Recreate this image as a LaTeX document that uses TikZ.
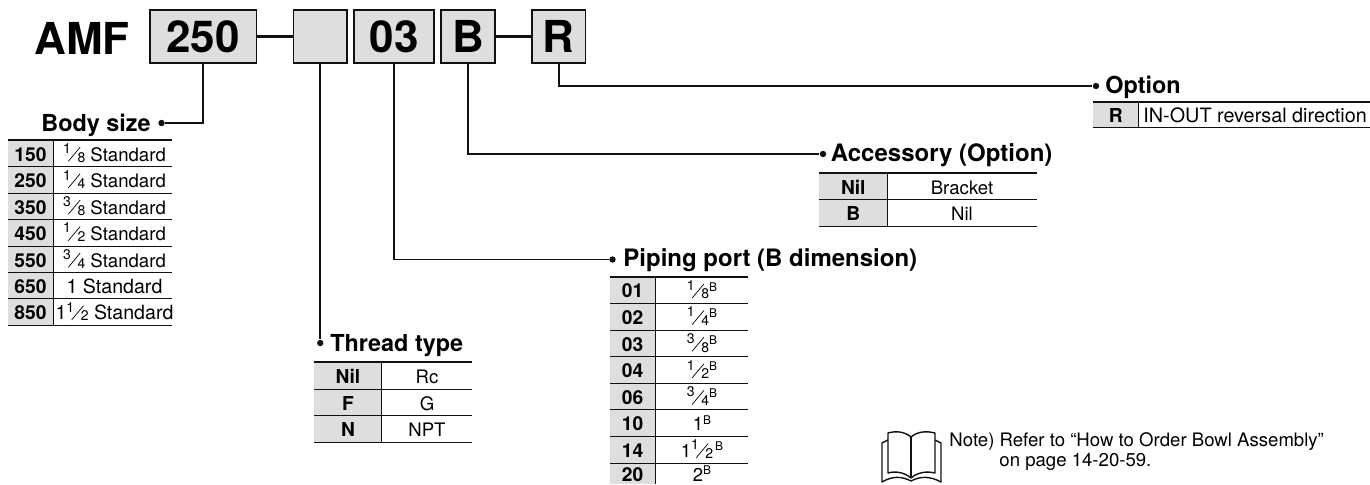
\documentclass[tikz,border=0pt]{standalone}
\usepackage{fontspec}
\setmainfont{TeX Gyre Heros}
\usetikzlibrary{arrows.meta,positioning,calc}
\definecolor{AMFInk}{HTML}{111111}
\definecolor{AMFKey}{HTML}{DEDEDE}
\newcommand{\frc}[2]{{\raisebox{3.8pt}{\fontsize{7}{7}\selectfont #1}\kern-1.45pt\raisebox{-.2pt}{\rotatebox{50}{\rule{9.2pt}{.35pt}}}\kern-1.45pt\raisebox{-.5pt}{\fontsize{7}{7}\selectfont #2}}}
\newcommand{\supB}{\raisebox{3.4pt}{\fontsize{6}{7}\selectfont B}}
\newcommand{\wider}{\fontsize{9.8}{11}\selectfont}
\tikzset{
  codebox/.style={draw=AMFInk,line width=.9pt,fill=AMFKey,text=black,inner sep=0pt,
                  minimum height=26.5pt,font=\fontsize{22}{24}\bfseries\selectfont},
  joiner/.style={AMFInk,line width=1.5pt},
  leader/.style={AMFInk,line width=.8pt},
  leaddot/.style={circle,fill=AMFInk,inner sep=0pt,minimum size=3.2pt},
  head/.style={text=black,inner sep=0pt,font=\fontsize{11.7}{14}\bfseries\selectfont},
  headwide/.style={head,font=\fontsize{12}{14}\bfseries\selectfont},
  keytext/.style={anchor=base,inner sep=0pt,font=\fontsize{9.6}{11}\bfseries\selectfont},
  valtext/.style={anchor=base,inner sep=0pt,font=\fontsize{9.3}{11}\selectfont},
  toprule/.style={AMFInk,line width=.95pt},
  rowrule/.style={AMFInk,line width=.5pt},
  notetext/.style={anchor=base west,inner sep=0pt,font=\fontsize{9.3}{11}\selectfont},
  bookline/.style={AMFInk,line width=.7pt,line join=round},
}
\begin{document}
\begin{tikzpicture}[x=.5pt,y=-.5pt]
    \useasboundingbox (0,0) rectangle (1370,484);

    % model code
    \node[anchor=base west,inner sep=0pt,font=\fontsize{22}{24}\bfseries\selectfont] (model) at (34,54) {AMF};
    \node[codebox,minimum width=53.4pt] (size) at (203,36.5) {250};
    \node[codebox,minimum width=26.75pt] (thread) at (320.25,36.5) {};
    \node[codebox,minimum width=40pt] (port) at (394,36.5) {03};
    \node[codebox,minimum width=27pt] (bracket) at (468,36.5) {B};
    \node[codebox,minimum width=26.75pt] (reversal) at (558.75,36.5) {R};
    \draw[joiner] (size.east)--(thread.west);
    \draw[joiner] (bracket.east)--(reversal.west);

    % leaders
    \node[leaddot] (sizedot) at (161.5,123) {};
    \node[leaddot] (threaddot) at (320.25,343) {};
    \node[leaddot] (portdot) at (612.5,259.5) {};
    \node[leaddot] (bracketdot) at (823,154) {};
    \node[leaddot] (reversaldot) at (1096,86) {};
    \draw[leader,line width=1pt] (size.south) |- (sizedot);
    \draw[leader] (thread.south) -- (threaddot);
    \draw[leader] (port.south) |- (portdot);
    \draw[leader] (bracket.south) |- (bracketdot);
    \draw[leader] (reversal.south) |- (reversaldot);

    % body size
    \node[head,anchor=base east] (sizehead) at (151,131.5) {Body size};
    \fill[AMFKey] (8,140) rectangle (53,325.3);
    \draw[toprule] (8,140)--(172,140);
    \draw[rowrule] (53,140)--(53,325.3);
    \foreach \ypos/\keytxt/\valtxt in {
      166.6/150/\frc{1}{8} Standard,193.2/250/\frc{1}{4} Standard,219.6/350/\frc{3}{8} Standard,
      246/450/\frc{1}{2} Standard,272.6/550/\frc{3}{4} Standard,298.9/650/\wider 1 Standard,325.3/850/\wider 1\frc{1}{2} Standard}{
      \node[keytext] (sizekey\keytxt) at (30.5,\ypos-5.5) {\keytxt};
      \node[valtext] (sizeval\keytxt) at (114.5,\ypos-5.5) {\valtxt};
      \draw[rowrule] (8,\ypos)--(172,\ypos);
    }

    % thread type
    \node[head,anchor=base west] (threadhead) at (330,351) {Thread type};
    \fill[AMFKey] (314,362.3) rectangle (381.7,442);
    \draw[toprule] (314,362.3)--(472,362.3);
    \draw[rowrule] (381.7,362.3)--(381.7,442);
    \foreach \ypos/\keytxt/\valtxt in {389/Nil/Rc,415.7/F/G,442/N/NPT}{
      \node[keytext] (threadkey\keytxt) at (348,\ypos-5.5) {\keytxt};
      \node[valtext] (threadval\keytxt) at (427,\ypos-5.5) {\valtxt};
      \draw[rowrule] (314,\ypos)--(472,\ypos);
    }

    % piping port
    \node[headwide,anchor=base west] (porthead) at (623,266) {Piping port (B dimension)};
    \fill[AMFKey] (610,277) rectangle (655.7,484);
    \draw[toprule] (610,277)--(747.7,277);
    \draw[rowrule] (655.7,277)--(655.7,484);
    \foreach \ypos/\keytxt/\valtxt in {
      303.4/01/\frc{1}{8}\supB,330/02/\frc{1}{4}\supB,356.6/03/\frc{3}{8}\supB,383.2/04/\frc{1}{2}\supB,
      409.8/06/\frc{3}{4}\supB,436.4/10/1\supB,463/14/1\frc{1}{2}\kern1pt\supB}{
      \node[keytext] (portkey\keytxt) at (632.5,\ypos-5.5) {\keytxt};
      \node[valtext] (portval\keytxt) at (702,\ypos-5.5) {\valtxt};
      \draw[rowrule] (610,\ypos)--(747.7,\ypos);
    }
    \node[keytext] (portkey20) at (632.5,481.5) {20};
    \node[valtext] (portval20) at (702,481.5) {2\supB};

    % accessory
    \node[headwide,anchor=base west] (brackethead) at (830.5,161.5) {Accessory (Option)};
    \fill[AMFKey] (819.3,173.3) rectangle (887.3,226);
    \draw[toprule] (819.3,173.3)--(1036.7,173.3);
    \draw[rowrule] (887.3,173.3)--(887.3,226);
    \foreach \ypos/\keytxt/\valtxt in {199.5/Nil/Bracket,226/B/Nil}{
      \node[keytext] (bracketkey\keytxt) at (853.3,\ypos-5.5) {\keytxt};
      \node[valtext] (bracketval\keytxt) at (962,\ypos-5.5) {\valtxt};
      \draw[rowrule] (819.3,\ypos)--(1036.7,\ypos);
    }

    % option
    \node[head,anchor=base west] (reversalhead) at (1105,93) {Option};
    \fill[AMFKey] (1093.3,101.7) rectangle (1138.3,127.7);
    \draw[toprule] (1093.3,101.7)--(1370,101.7);
    \draw[rowrule] (1138.3,101.7)--(1138.3,127.7);
    \draw[rowrule] (1093.3,127.7)--(1370,127.7);
    \node[keytext] (reversalkey) at (1115.8,122.2) {R};
    \node[valtext,anchor=base west,font=\fontsize{9.9}{11}\selectfont] (reversalval) at (1143,122.2) {IN-OUT reversal direction};

    % note
    \draw[bookline] (911,437) .. controls (904,431) and (895,431) .. (888,433) -- (888,473)
      .. controls (895,471) and (904,472) .. (911,478);
    \draw[bookline] (911,437) .. controls (918,431) and (927,431) .. (935,433) -- (935,473)
      .. controls (927,471) and (918,472) .. (911,478);
    \draw[bookline] (911,437)--(911,478);
    \draw[bookline] (888,440) -- (882,443) -- (882,482) .. controls (892,476) and (902,476) .. (911,481)
      .. controls (920,476) and (930,476) .. (941,482) -- (941,443) -- (935,440);
    \node[notetext] (notefirst) at (949,446) {Note) Refer to “How to Order Bowl Assembly”};
    \node[notetext] (notesecond) at (999,466.5) {on page 14-20-59.};
  \end{tikzpicture}
\end{document}
